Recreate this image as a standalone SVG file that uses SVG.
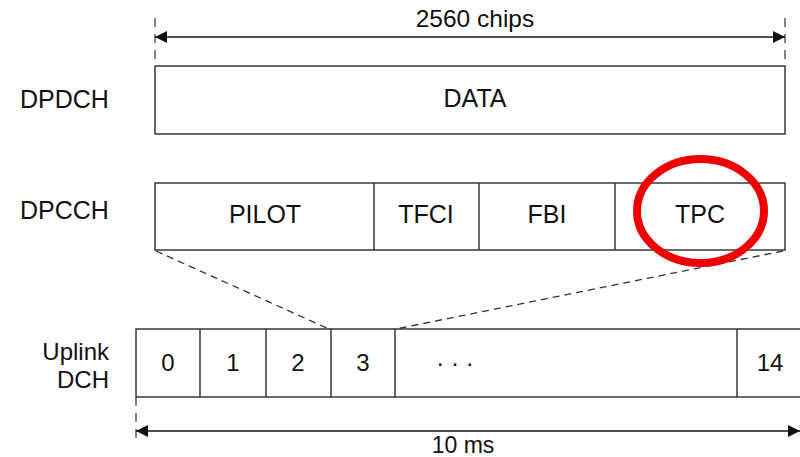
<svg xmlns="http://www.w3.org/2000/svg" width="800" height="457" viewBox="0 0 800 457">
  <style>
    .box { fill: #ffffff; stroke: #2a2a2a; stroke-width: 1.4; }
    .div { stroke: #2a2a2a; stroke-width: 1.4; }
    .lbl { font-family: "Liberation Sans", Arial, sans-serif; fill: #111111; font-size: 25px; }
    .mid { text-anchor: middle; }
    .num { font-family: "Liberation Sans", Arial, sans-serif; fill: #111111; font-size: 24px; text-anchor: middle; }
    .dash { stroke: #333333; stroke-width: 1.3; stroke-dasharray: 7 5; fill: none; }
    .tick { stroke: #444444; stroke-width: 1.3; stroke-dasharray: 9 7; }
    .dim { stroke: #111111; stroke-width: 1.5; fill: none; }
  </style>
  <defs>
    <marker id="arrowEnd" viewBox="0 0 12 12" refX="12" refY="6" markerWidth="12" markerHeight="12" markerUnits="userSpaceOnUse" orient="auto">
      <path d="M0,0 L12,6 L0,12 Z" fill="#111111"/>
    </marker>
    <marker id="arrowStart" viewBox="0 0 12 12" refX="0" refY="6" markerWidth="12" markerHeight="12" markerUnits="userSpaceOnUse" orient="auto">
      <path d="M12,0 L0,6 L12,12 Z" fill="#111111"/>
    </marker>
  </defs>
  <rect width="800" height="457" fill="#ffffff"/>

  <!-- slot length dimension -->
  <g id="dim-slot">
    <line class="tick" x1="155" y1="18" x2="155" y2="66"/>
    <line class="tick" x1="785" y1="18" x2="785" y2="66"/>
    <line class="dim" x1="155" y1="37" x2="785" y2="37" marker-start="url(#arrowStart)" marker-end="url(#arrowEnd)"/>
    <text class="lbl mid" x="475" y="27" style="font-size:24.5px">2560 chips</text>
  </g>

  <!-- DPDCH -->
  <g id="dpdch">
    <text class="lbl" x="20" y="108">DPDCH</text>
    <rect class="box" x="155" y="66" width="630" height="68"/>
    <text class="lbl mid" x="475" y="107">DATA</text>
  </g>

  <!-- DPCCH -->
  <g id="dpcch">
    <text class="lbl" x="20" y="219">DPCCH</text>
    <rect class="box" x="155" y="183" width="630" height="67"/>
    <line class="div" x1="374" y1="183" x2="374" y2="250"/>
    <line class="div" x1="479" y1="183" x2="479" y2="250"/>
    <line class="div" x1="615" y1="183" x2="615" y2="250"/>
    <text class="lbl mid" x="265" y="223">PILOT</text>
    <text class="lbl mid" x="426" y="223">TFCI</text>
    <text class="lbl mid" x="547" y="223">FBI</text>
    <text class="lbl mid" x="700" y="223">TPC</text>
  </g>

  <!-- expansion lines from slot 3 to the DPCCH slot -->
  <g id="connectors">
    <line class="dash" x1="156" y1="251" x2="329" y2="329"/>
    <line class="dash" x1="783" y1="251" x2="396" y2="329"/>
  </g>

  <!-- Uplink DCH frame -->
  <g id="uplink-dch">
    <text class="lbl" x="109" y="360" text-anchor="end" style="font-size:24px">Uplink</text>
    <text class="lbl" x="109" y="388" text-anchor="end" style="font-size:24px">DCH</text>
    <rect class="box" x="136" y="329" width="670" height="68"/>
    <line class="div" x1="200" y1="329" x2="200" y2="397"/>
    <line class="div" x1="266" y1="329" x2="266" y2="397"/>
    <line class="div" x1="331" y1="329" x2="331" y2="397"/>
    <line class="div" x1="395" y1="329" x2="395" y2="397"/>
    <line class="div" x1="737" y1="329" x2="737" y2="397"/>
    <text class="num" x="168" y="371">0</text>
    <text class="num" x="233" y="371">1</text>
    <text class="num" x="298" y="371">2</text>
    <text class="num" x="363" y="371">3</text>
    <text class="num" x="455" y="371">· · ·</text>
    <text class="num" x="770" y="371">14</text>
  </g>

  <!-- frame length dimension -->
  <g id="dim-frame">
    <line class="tick" x1="136" y1="397" x2="136" y2="442"/>
    <line class="dim" x1="136" y1="431" x2="800" y2="431" marker-start="url(#arrowStart)" marker-end="url(#arrowEnd)"/>
    <text class="lbl mid" x="463" y="453" style="font-size:23px">10 ms</text>
  </g>

  <!-- highlight around TPC -->
  <g id="tpc-highlight">
    <ellipse cx="700.5" cy="211" rx="63.5" ry="52" fill="none" stroke="#ee0000" stroke-width="8"/>
  </g>
</svg>
